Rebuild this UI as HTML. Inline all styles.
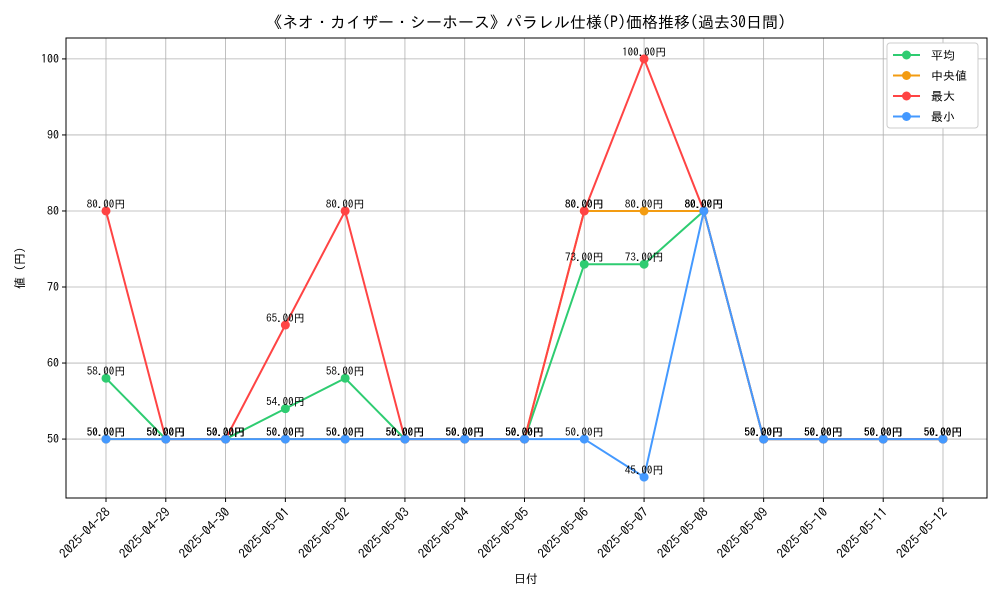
<!DOCTYPE html>
<html><head><meta charset="utf-8"><style>
body{margin:0;background:#fff}
svg text{font-family:"IPAGothic","Noto Sans CJK JP",sans-serif;fill:#000}
</style></head><body>
<svg id="chart" width="1000" height="600" xmlns="http://www.w3.org/2000/svg">
<rect width="1000" height="600" fill="#fff"/>
<text x="526" y="28" font-size="16" text-anchor="middle">《ネオ・カイザー・シーホース》パラレル仕様(P)価格推移(過去30日間)</text>
<g id="grid"></g><g id="axes"></g><g id="series"></g><g id="labels"></g>
<rect x="66" y="38" width="921" height="460" fill="none" stroke="#000" stroke-width="1"/>
<text x="526" y="583" font-size="12" text-anchor="middle">日付</text>
<text transform="translate(24,268) rotate(-90)" font-size="12" text-anchor="middle">値 (円)</text>
<g id="legend">
<rect x="887" y="43" width="91" height="85" fill="#fff" stroke="#ccc" rx="3"/>
</g>
</svg>
<script>
const dates=["2025-04-28","2025-04-29","2025-04-30","2025-05-01","2025-05-02","2025-05-03","2025-05-04","2025-05-05","2025-05-06","2025-05-07","2025-05-08","2025-05-09","2025-05-10","2025-05-11","2025-05-12"];
const avgVals=[58,50,50,54,58,50,50,50,73,73,80,50,50,50,50];
const medianVals=[50,50,50,50,50,50,50,50,80,80,80,50,50,50,50];
const maxVals=[80,50,50,65,80,50,50,50,80,100,80,50,50,50,50];
const minVals=[50,50,50,50,50,50,50,50,50,45,80,50,50,50,50];
const yTicks=[50,60,70,80,90,100];
const seriesNames=["平均","中央値","最大","最小"];
const NS="http://www.w3.org/2000/svg";
const L=66,R=987,T=38,B=498,yMin=42.25,yMax=102.75;
const X0=106,X1=943;
const xs=i=>X0+i/(dates.length-1)*(X1-X0);
const ys=v=>B-(v-yMin)/(yMax-yMin)*(B-T);
function mk(tag,attrs,parent){const e=document.createElementNS(NS,tag);for(const k in attrs)e.setAttribute(k,attrs[k]);document.getElementById(parent).appendChild(e);return e;}
dates.forEach((d,i)=>{const x=xs(i);
 const g=mk("line",{x1:x,x2:x,y1:T,y2:B,stroke:"#b0b0b0","stroke-width":0.8},"grid");
 
 
 const tk=mk("line",{x1:x,x2:x,y1:B,y2:B+4,stroke:"#000"},"axes");
 
 
 const t=mk("text",{x:0,y:0,"font-size":13,"text-anchor":"end",transform:`translate(${x+5},${B+15}) rotate(-45)`},"axes");
 t.textContent=d;
 
 
});
yTicks.forEach(v=>{const y=ys(v);
 const g=mk("line",{x1:L,x2:R,y1:y,y2:y,stroke:"#b0b0b0","stroke-width":0.8},"grid");
 
 
 const tk=mk("line",{x1:L-4,x2:L,y1:y,y2:y,stroke:"#000"},"axes");
 
 
 const t=mk("text",{x:L-7,y:y+4,"font-size":12,"text-anchor":"end"},"axes");
 t.textContent=v;
 
 
});
const series=[[avgVals,"#2ecc71","avg"],[medianVals,"#f39c12","median"],[maxVals,"#ff4444","max"],[minVals,"#4499ff","min"]];
series.forEach(([vals,c,n],si)=>{
 const p=mk("polyline",{points:vals.map((v,i)=>xs(i)+","+ys(v)).join(" "),fill:"none",stroke:c,"stroke-width":2},"series");
 
 
 vals.forEach((v,i)=>{
  const d=mk("circle",{cx:xs(i),cy:ys(v),r:4.5,fill:c},"series");
  
  
  const t=mk("text",{x:xs(i),y:ys(v)-3,"font-size":11,"text-anchor":"middle"},"labels");
  t.textContent=v.toFixed(2)+"円";
  
  
 });
 const ly=55+si*20.5;
 const ll=mk("line",{x1:893,x2:920,y1:ly,y2:ly,stroke:c,"stroke-width":2},"legend");
 
 
 const lc=mk("circle",{cx:906.5,cy:ly,r:4.5,fill:c},"legend");
 
 
 const lt=mk("text",{x:931,y:ly+4.5,"font-size":12},"legend");
 lt.textContent=seriesNames[si];
 
 
});
</script>
</body></html>
